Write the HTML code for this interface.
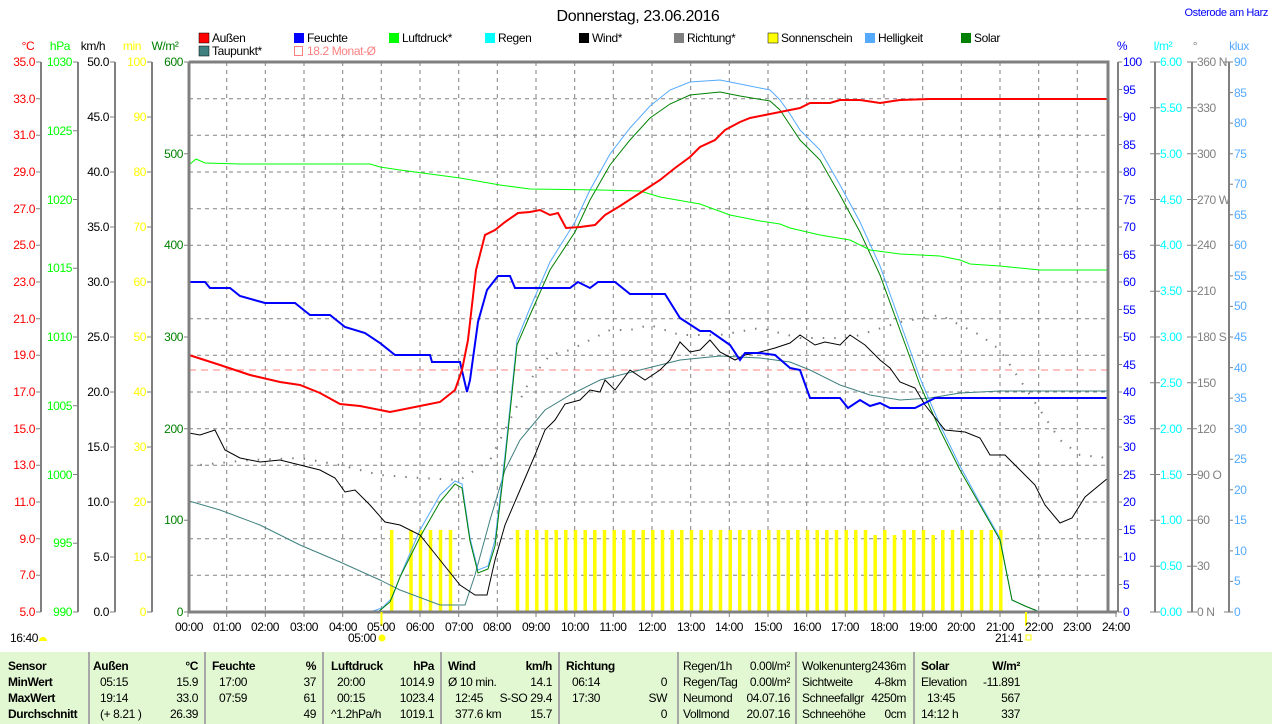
<!DOCTYPE html>
<html><head><meta charset="utf-8"><style>
body{margin:0;background:#fff;width:1274px;height:724px;overflow:hidden;font-family:"Liberation Sans",sans-serif;}
svg text{font-family:"Liberation Sans",sans-serif;font-size:12px;letter-spacing:-0.4px;}
#tbl{position:absolute;left:0;top:652px;width:1272px;height:72px;background:#e2f8d2;font-size:12px;letter-spacing:-0.4px;}
#tbl div{position:absolute;white-space:nowrap;}
.sep{width:2px;height:72px;top:0;background:#a8a8a8;}
.b{font-weight:bold;}
</style></head><body>
<svg width="1274" height="652" style="position:absolute;left:0;top:0">
<text x="638" y="21" text-anchor="middle" style="font-size:16px">Donnerstag, 23.06.2016</text>
<text x="1268" y="16" text-anchor="end" fill="#0000ff" style="font-size:11px">Osterode am Harz</text>
<g style="font-size:12px">
<rect x="199" y="33" width="10" height="10" fill="#ff0000" stroke="#000" stroke-width="0.5"/><text x="212" y="42">Außen</text>
<rect x="294" y="33" width="10" height="10" fill="#0000ff"/><text x="307" y="42">Feuchte</text>
<rect x="389" y="33" width="10" height="10" fill="#00ff00"/><text x="402" y="42">Luftdruck*</text>
<rect x="485" y="33" width="10" height="10" fill="#00ffff"/><text x="498" y="42">Regen</text>
<rect x="579" y="33" width="10" height="10" fill="#000"/><text x="592" y="42">Wind*</text>
<rect x="674" y="33" width="10" height="10" fill="#808080"/><text x="687" y="42">Richtung*</text>
<rect x="768" y="33" width="10" height="10" fill="#ffff00" stroke="#000" stroke-width="0.5"/><text x="781" y="42">Sonnenschein</text>
<rect x="865" y="33" width="10" height="10" fill="#55aaff"/><text x="878" y="42">Helligkeit</text>
<rect x="961" y="33" width="10" height="10" fill="#008000"/><text x="974" y="42">Solar</text>
<rect x="199" y="46" width="10" height="10" fill="#408080" stroke="#000" stroke-width="0.5"/><text x="212" y="55">Taupunkt*</text>
<rect x="294.5" y="46.5" width="8" height="9" fill="none" stroke="#ff8080"/><text x="307" y="55" fill="#ff8080">18.2 Monat-Ø</text>
</g>
<text x="28" y="50" text-anchor="middle" fill="#ff0000">°C</text>
<text x="60" y="50" text-anchor="middle" fill="#00ff00">hPa</text>
<text x="93" y="50" text-anchor="middle">km/h</text>
<text x="132" y="50" text-anchor="middle" fill="#ffff00">min</text>
<text x="165" y="50" text-anchor="middle" fill="#008000">W/m²</text>
<text x="1122" y="50" text-anchor="middle" fill="#0000ff">%</text>
<text x="1163" y="50" text-anchor="middle" fill="#00ffff">l/m²</text>
<text x="1195" y="50" text-anchor="middle" fill="#808080">°</text>
<text x="1239" y="50" text-anchor="middle" fill="#55aaff">klux</text>
<g stroke="#808080" stroke-dasharray="4,4" stroke-width="1">
<line x1="226.7" y1="62" x2="226.7" y2="612"/><line x1="265.3" y1="62" x2="265.3" y2="612"/><line x1="304" y1="62" x2="304" y2="612"/><line x1="342.7" y1="62" x2="342.7" y2="612"/><line x1="381.3" y1="62" x2="381.3" y2="612"/><line x1="420" y1="62" x2="420" y2="612"/><line x1="458.7" y1="62" x2="458.7" y2="612"/><line x1="497.3" y1="62" x2="497.3" y2="612"/><line x1="536" y1="62" x2="536" y2="612"/><line x1="574.7" y1="62" x2="574.7" y2="612"/><line x1="613.3" y1="62" x2="613.3" y2="612"/><line x1="652" y1="62" x2="652" y2="612"/><line x1="690.7" y1="62" x2="690.7" y2="612"/><line x1="729.3" y1="62" x2="729.3" y2="612"/><line x1="768" y1="62" x2="768" y2="612"/><line x1="806.7" y1="62" x2="806.7" y2="612"/><line x1="845.3" y1="62" x2="845.3" y2="612"/><line x1="884" y1="62" x2="884" y2="612"/><line x1="922.7" y1="62" x2="922.7" y2="612"/><line x1="961.3" y1="62" x2="961.3" y2="612"/><line x1="1000" y1="62" x2="1000" y2="612"/><line x1="1038.7" y1="62" x2="1038.7" y2="612"/><line x1="1077.3" y1="62" x2="1077.3" y2="612"/>
<line x1="189" y1="98.7" x2="1108" y2="98.7"/><line x1="189" y1="135.3" x2="1108" y2="135.3"/><line x1="189" y1="172" x2="1108" y2="172"/><line x1="189" y1="208.7" x2="1108" y2="208.7"/><line x1="189" y1="245.3" x2="1108" y2="245.3"/><line x1="189" y1="282" x2="1108" y2="282"/><line x1="189" y1="318.7" x2="1108" y2="318.7"/><line x1="189" y1="355.3" x2="1108" y2="355.3"/><line x1="189" y1="392" x2="1108" y2="392"/><line x1="189" y1="428.7" x2="1108" y2="428.7"/><line x1="189" y1="465.3" x2="1108" y2="465.3"/><line x1="189" y1="502" x2="1108" y2="502"/><line x1="189" y1="538.7" x2="1108" y2="538.7"/><line x1="189" y1="575.3" x2="1108" y2="575.3"/>
</g>
<g stroke="#ffff00" stroke-width="3.5">
<line x1="391.7" y1="530" x2="391.7" y2="612"/><line x1="411" y1="530" x2="411" y2="612"/><line x1="420.5" y1="530" x2="420.5" y2="612"/><line x1="430.5" y1="530" x2="430.5" y2="612"/><line x1="440.5" y1="530" x2="440.5" y2="612"/><line x1="450.5" y1="530" x2="450.5" y2="612"/>
<path d="M517.5 530V612M527.2 530V612M536.8 530V612M546.5 530V612M556.2 530V612M565.8 530V612M575.5 530V612M585.2 530V612M594.8 530V612M604.5 530V612M614.2 530V612M623.8 530V612M633.5 530V612M643.2 530V612M652.8 530V612M662.5 530V612M672.2 530V612M681.8 530V612M691.5 530V612M701.2 530V612M710.8 530V612M720.5 530V612M730.2 530V612M739.8 530V612M749.5 530V612M759.2 530V612M768.8 530V612M778.5 530V612M788.2 530V612M797.8 530V612M807.5 530V612M817.2 530V612M826.8 530V612M836.5 530V612M846.2 530V612M855.8 530V612M865.5 530V612M875.2 535V612M884.8 530V612M894.5 535V612M904.2 530V612M913.8 530V612M923.5 530V612M933.2 535V612M942.8 530V612M952.5 530V612M962.2 530V612M971.8 530V612M981.5 530V612M991.2 530V612M1000.8 530V612"/>
</g>
<line x1="189" y1="370" x2="1108" y2="370" stroke="#ff8080" stroke-dasharray="7,5"/>
<polyline fill="none" stroke="#808080" stroke-width="2" stroke-dasharray="1.5,10" points="189,466 250,460 300,458 340,465 380,475 420,478 460,480 490,460 510,420 530,380 550,355 570,350 590,340 610,330 630,330 650,325 680,335 720,335 760,328 800,338 850,338 900,322 940,315 980,335 1000,350 1020,380 1040,410 1060,440 1080,455 1108,458"/>
<polyline fill="none" stroke="#408080" stroke-width="1" points="189,501 220,510 260,525 300,545 340,562 380,580 400,590 440,605 465,605 475,575 490,520 505,470 520,440 545,410 570,395 600,380 640,370 680,360 720,356 760,358 790,362 810,370 840,385 870,395 900,400 930,398 960,393 1000,391 1108,391"/>
<polyline fill="none" stroke="#55aaff" stroke-width="1" points="189,612 370,612 382,608 392,598 402,572 420,530 440,495 455,481 462,484 470,538 478,570 488,566 495,540 505,455 517,340 530,308 550,262 575,222 590,190 610,154 630,128 650,106 670,90 690,82 720,80 740,84 770,90 780,100 790,114 800,130 820,150 840,185 860,222 880,266 900,322 920,378 940,425 960,466 980,503 1000,538 1012,600 1025,606 1040,612 1108,612"/>
<polyline fill="none" stroke="#008000" stroke-width="1" points="189,612 378,612 390,602 400,577 420,537 440,502 455,484 462,488 470,541 478,573 488,569 495,546 505,461 517,345 530,315 550,270 575,232 590,200 610,165 630,140 650,118 670,104 690,95 720,92 740,96 770,101 780,110 790,125 800,140 820,160 840,195 860,232 880,275 900,330 920,385 940,430 960,470 980,505 1000,540 1012,600 1025,606 1040,612"/>
<polyline fill="none" stroke="#00ff00" stroke-width="1" points="189,165 196,159 205,163 240,164 370,164 380,167 400,170 430,174 460,178 500,185 530,189 600,190 640,191 660,197 700,204 730,215 760,221 780,224 790,228 820,235 850,240 870,250 900,254 940,256 960,260 970,264 1000,266 1040,270 1108,270"/>
<polyline fill="none" stroke="#000" stroke-width="1" points="189,433 200,435 215,430 225,450 240,458 260,462 280,460 300,465 320,470 335,478 345,492 355,490 370,505 385,522 400,525 420,535 440,560 460,585 475,595 487,595 495,560 505,525 520,490 535,455 545,430 555,420 565,404 580,400 590,390 600,392 605,380 615,390 630,370 645,380 660,370 670,360 680,342 690,352 700,350 710,340 720,352 735,360 745,355 760,352 775,348 790,343 800,335 815,345 825,342 840,345 850,335 865,345 880,360 890,368 900,382 915,388 925,405 945,430 965,432 980,438 990,455 1005,455 1020,470 1035,485 1045,505 1060,523 1072,518 1085,497 1108,478"/>
<polyline fill="none" stroke="#0000ff" stroke-width="2" points="189,282 205,282 210,288 230,288 240,296 265,303 295,303 310,315 330,315 345,327 365,333 380,343 395,355 430,355 432,362 460,362 467,392 470,380 478,322 487,290 498,276 510,276 515,288 570,288 578,282 590,288 598,282 615,282 630,294 665,294 680,318 700,331 710,331 720,338 730,345 740,360 745,353 760,353 775,355 790,368 800,370 810,398 840,398 848,408 860,400 870,406 880,403 890,408 915,408 935,398 1108,398"/>
<polyline fill="none" stroke="#ff0000" stroke-width="2" points="189,355 220,365 250,375 280,382 300,385 320,393 340,404 360,406 390,412 410,408 440,402 455,390 462,370 468,340 476,270 485,235 495,230 505,222 518,213 530,212 540,210 550,215 558,213 566,228 580,227 595,225 605,215 620,206 640,193 660,180 675,168 690,157 700,147 715,140 725,130 740,122 750,118 765,115 780,112 800,108 810,103 830,103 840,100 860,100 880,103 900,100 930,99 1108,99"/>
<g stroke="#808080" fill="none">
<path d="M189 62H1108V612" stroke-width="3"/>
<line x1="189" y1="62" x2="189" y2="612" stroke-width="3"/>
<line x1="188" y1="612" x2="1117" y2="612" stroke-width="3"/>
<line x1="41" y1="62" x2="41" y2="612" stroke-width="2"/>
<line x1="78" y1="62" x2="78" y2="612" stroke-width="2"/>
<line x1="115" y1="62" x2="115" y2="612" stroke-width="2"/>
<line x1="152" y1="62" x2="152" y2="612" stroke-width="2"/>
<line x1="1118" y1="62" x2="1118" y2="612" stroke-width="2"/>
<line x1="1155" y1="62" x2="1155" y2="612" stroke-width="2"/>
<line x1="1192" y1="62" x2="1192" y2="612" stroke-width="2"/>
<line x1="1229" y1="62" x2="1229" y2="612" stroke-width="2"/>
<path stroke-width="1" d="M188 612v5M226.7 612v5M265.3 612v5M304 612v5M342.7 612v5M381.3 612v5M420 612v5M458.7 612v5M497.3 612v5M536 612v5M574.7 612v5M613.3 612v5M652 612v5M690.7 612v5M729.3 612v5M768 612v5M806.7 612v5M845.3 612v5M884 612v5M922.7 612v5M961.3 612v5M1000 612v5M1038.7 612v5M1077.3 612v5M1116 612v5"/>
</g>
<line x1="381.5" y1="612" x2="381.5" y2="626" stroke="#ffff00" stroke-width="2"/>
<line x1="1026" y1="612" x2="1026" y2="626" stroke="#ffff00" stroke-width="2"/>
<g text-anchor="end" fill="#ff0000">
<text x="35" y="66">35.0</text><text x="35" y="103">33.0</text><text x="35" y="139">31.0</text><text x="35" y="176">29.0</text><text x="35" y="213">27.0</text><text x="35" y="249">25.0</text><text x="35" y="286">23.0</text><text x="35" y="323">21.0</text><text x="35" y="359">19.0</text><text x="35" y="396">17.0</text><text x="35" y="433">15.0</text><text x="35" y="469">13.0</text><text x="35" y="506">11.0</text><text x="35" y="543">9.0</text><text x="35" y="579">7.0</text><text x="35" y="616">5.0</text>
</g>
<g text-anchor="end" fill="#00ff00">
<text x="72" y="66">1030</text><text x="72" y="135">1025</text><text x="72" y="204">1020</text><text x="72" y="272">1015</text><text x="72" y="341">1010</text><text x="72" y="410">1005</text><text x="72" y="479">1000</text><text x="72" y="547">995</text><text x="72" y="616">990</text>
</g>
<g text-anchor="end" fill="#000">
<text x="109" y="66">50.0</text><text x="109" y="121">45.0</text><text x="109" y="176">40.0</text><text x="109" y="231">35.0</text><text x="109" y="286">30.0</text><text x="109" y="341">25.0</text><text x="109" y="396">20.0</text><text x="109" y="451">15.0</text><text x="109" y="506">10.0</text><text x="109" y="561">5.0</text><text x="109" y="616">0.0</text>
</g>
<g text-anchor="end" fill="#ffff00">
<text x="146" y="66">100</text><text x="146" y="121">90</text><text x="146" y="176">80</text><text x="146" y="231">70</text><text x="146" y="286">60</text><text x="146" y="341">50</text><text x="146" y="396">40</text><text x="146" y="451">30</text><text x="146" y="506">20</text><text x="146" y="561">10</text><text x="146" y="616">0</text>
</g>
<g text-anchor="end" fill="#008000">
<text x="183" y="66">600</text><text x="183" y="158">500</text><text x="183" y="249">400</text><text x="183" y="341">300</text><text x="183" y="433">200</text><text x="183" y="524">100</text><text x="183" y="616">0</text>
</g>
<g stroke="#808080"><path d="M36 62h5M36 98.7h5M36 135.3h5M36 172h5M36 208.7h5M36 245.3h5M36 282h5M36 318.7h5M36 355.3h5M36 392h5M36 428.7h5M36 465.3h5M36 502h5M36 538.7h5M36 575.3h5M36 612h5M73 62h5M73 130.75h5M73 199.5h5M73 268.25h5M73 337h5M73 405.75h5M73 474.5h5M73 543.25h5M73 612h5M110 62h5M110 117h5M110 172h5M110 227h5M110 282h5M110 337h5M110 392h5M110 447h5M110 502h5M110 557h5M110 612h5M147 62h5M147 117h5M147 172h5M147 227h5M147 282h5M147 337h5M147 392h5M147 447h5M147 502h5M147 557h5M147 612h5M184 62h5M184 153.7h5M184 245.3h5M184 337h5M184 428.7h5M184 520.3h5M184 612h5"/></g>
<g fill="#0000ff">
<text x="1123" y="66">100</text><text x="1123" y="94">95</text><text x="1123" y="121">90</text><text x="1123" y="149">85</text><text x="1123" y="176">80</text><text x="1123" y="204">75</text><text x="1123" y="231">70</text><text x="1123" y="259">65</text><text x="1123" y="286">60</text><text x="1123" y="314">55</text><text x="1123" y="341">50</text><text x="1123" y="369">45</text><text x="1123" y="396">40</text><text x="1123" y="424">35</text><text x="1123" y="451">30</text><text x="1123" y="479">25</text><text x="1123" y="506">20</text><text x="1123" y="534">15</text><text x="1123" y="561">10</text><text x="1123" y="589">5</text><text x="1123" y="616">0</text>
</g>
<g fill="#00ffff">
<text x="1160" y="66">6.00</text><text x="1160" y="112">5.50</text><text x="1160" y="158">5.00</text><text x="1160" y="204">4.50</text><text x="1160" y="249">4.00</text><text x="1160" y="295">3.50</text><text x="1160" y="341">3.00</text><text x="1160" y="387">2.50</text><text x="1160" y="433">2.00</text><text x="1160" y="479">1.50</text><text x="1160" y="524">1.00</text><text x="1160" y="570">0.50</text><text x="1160" y="616">0.00</text>
</g>
<g fill="#808080">
<text x="1197" y="66">360 N</text><text x="1197" y="112">330</text><text x="1197" y="158">300</text><text x="1197" y="204">270 W</text><text x="1197" y="249">240</text><text x="1197" y="295">210</text><text x="1197" y="341">180 S</text><text x="1197" y="387">150</text><text x="1197" y="433">120</text><text x="1197" y="479">90 O</text><text x="1197" y="524">60</text><text x="1197" y="570">30</text><text x="1197" y="616">0 N</text>
</g>
<g fill="#55aaff">
<text x="1234" y="66">90</text><text x="1234" y="97">85</text><text x="1234" y="127">80</text><text x="1234" y="158">75</text><text x="1234" y="188">70</text><text x="1234" y="219">65</text><text x="1234" y="249">60</text><text x="1234" y="280">55</text><text x="1234" y="310">50</text><text x="1234" y="341">45</text><text x="1234" y="372">40</text><text x="1234" y="402">35</text><text x="1234" y="433">30</text><text x="1234" y="463">25</text><text x="1234" y="494">20</text><text x="1234" y="524">15</text><text x="1234" y="555">10</text><text x="1234" y="585">5</text><text x="1234" y="616">0</text>
</g>
<g stroke="#808080"><path d="M1118 62h4M1118 89.5h4M1118 117h4M1118 144.5h4M1118 172h4M1118 199.5h4M1118 227h4M1118 254.5h4M1118 282h4M1118 309.5h4M1118 337h4M1118 364.5h4M1118 392h4M1118 419.5h4M1118 447h4M1118 474.5h4M1118 502h4M1118 529.5h4M1118 557h4M1118 584.5h4M1118 612h4M1150 62h10M1150 107.8h10M1150 153.7h10M1150 199.5h10M1150 245.3h10M1150 291.2h10M1150 337h10M1150 382.8h10M1150 428.7h10M1150 474.5h10M1150 520.3h10M1150 566.2h10M1150 612h10M1187 62h10M1187 107.8h10M1187 153.7h10M1187 199.5h10M1187 245.3h10M1187 291.2h10M1187 337h10M1187 382.8h10M1187 428.7h10M1187 474.5h10M1187 520.3h10M1187 566.2h10M1187 612h10M1224 62h9M1229 92.6h4M1229 123.1h4M1229 153.7h4M1229 184.2h4M1229 214.8h4M1229 245.3h4M1229 275.9h4M1229 306.4h4M1229 337h4M1229 367.6h4M1229 398.1h4M1229 428.7h4M1229 459.2h4M1229 489.8h4M1229 520.3h4M1229 550.9h4M1229 581.4h4M1224 612h9"/></g>
<g text-anchor="middle">
<text x="189" y="631">00:00</text><text x="227" y="631">01:00</text><text x="265" y="631">02:00</text><text x="304" y="631">03:00</text><text x="343" y="631">04:00</text><text x="381" y="631">05:00</text><text x="420" y="631">06:00</text><text x="459" y="631">07:00</text><text x="497" y="631">08:00</text><text x="536" y="631">09:00</text><text x="575" y="631">10:00</text><text x="613" y="631">11:00</text><text x="652" y="631">12:00</text><text x="691" y="631">13:00</text><text x="729" y="631">14:00</text><text x="768" y="631">15:00</text><text x="807" y="631">16:00</text><text x="845" y="631">17:00</text><text x="884" y="631">18:00</text><text x="923" y="631">19:00</text><text x="961" y="631">20:00</text><text x="1000" y="631">21:00</text><text x="1039" y="631">22:00</text><text x="1077" y="631">23:00</text><text x="1116" y="631">24:00</text>
</g>
<text x="10" y="642">16:40</text><path d="M39 641a4 4 0 0 1 8 0z" fill="#ffff00"/>
<text x="348" y="642">05:00</text><circle cx="382" cy="638" r="3.5" fill="#ffff00"/>
<text x="995" y="642">21:41</text><rect x="1026" y="635" width="5" height="5" fill="none" stroke="#ffff00"/>
</svg>
<div id="tbl">
<div class="sep" style="left:88px"></div><div class="sep" style="left:204px"></div><div class="sep" style="left:322px"></div><div class="sep" style="left:440px"></div><div class="sep" style="left:558px"></div><div class="sep" style="left:677px"></div><div class="sep" style="left:795px"></div><div class="sep" style="left:913px"></div>
<div class="b" style="left:8px;top:7px">Sensor</div><div class="b" style="left:8px;top:23px">MinWert</div><div class="b" style="left:8px;top:39px">MaxWert</div><div class="b" style="left:8px;top:55px">Durchschnitt</div>
<div class="b" style="left:93px;top:7px">Außen</div><div class="b" style="right:1074px;top:7px">°C</div>
<div style="left:100px;top:23px">05:15</div><div style="right:1074px;top:23px">15.9</div>
<div style="left:100px;top:39px">19:14</div><div style="right:1074px;top:39px">33.0</div>
<div style="left:100px;top:55px">(+ 8.21 )</div><div style="right:1074px;top:55px">26.39</div>
<div class="b" style="left:212px;top:7px">Feuchte</div><div class="b" style="right:956px;top:7px">%</div>
<div style="left:219px;top:23px">17:00</div><div style="right:956px;top:23px">37</div>
<div style="left:219px;top:39px">07:59</div><div style="right:956px;top:39px">61</div>
<div style="right:956px;top:55px">49</div>
<div class="b" style="left:331px;top:7px">Luftdruck</div><div class="b" style="right:838px;top:7px">hPa</div>
<div style="left:337px;top:23px">20:00</div><div style="right:838px;top:23px">1014.9</div>
<div style="left:337px;top:39px">00:15</div><div style="right:838px;top:39px">1023.4</div>
<div style="left:331px;top:55px">^1.2hPa/h</div><div style="right:838px;top:55px">1019.1</div>
<div class="b" style="left:448px;top:7px">Wind</div><div class="b" style="right:720px;top:7px">km/h</div>
<div style="left:448px;top:23px">Ø 10 min.</div><div style="right:720px;top:23px">14.1</div>
<div style="left:455px;top:39px">12:45</div><div style="right:720px;top:39px">S-SO 29.4</div>
<div style="left:455px;top:55px">377.6 km</div><div style="right:720px;top:55px">15.7</div>
<div class="b" style="left:566px;top:7px">Richtung</div>
<div style="left:572px;top:23px">06:14</div><div style="right:605px;top:23px">0</div>
<div style="left:572px;top:39px">17:30</div><div style="right:605px;top:39px">SW</div>
<div style="right:605px;top:55px">0</div>
<div style="left:683px;top:7px">Regen/1h</div><div style="right:482px;top:7px">0.00l/m²</div>
<div style="left:683px;top:23px">Regen/Tag</div><div style="right:482px;top:23px">0.00l/m²</div>
<div style="left:683px;top:39px">Neumond</div><div style="right:482px;top:39px">04.07.16</div>
<div style="left:683px;top:55px">Vollmond</div><div style="right:482px;top:55px">20.07.16</div>
<div style="left:802px;top:7px">Wolkenunterg</div><div style="right:366px;top:7px">2436m</div>
<div style="left:802px;top:23px">Sichtweite</div><div style="right:366px;top:23px">4-8km</div>
<div style="left:802px;top:39px">Schneefallgr</div><div style="right:366px;top:39px">4250m</div>
<div style="left:802px;top:55px">Schneehöhe</div><div style="right:366px;top:55px">0cm</div>
<div class="b" style="left:921px;top:7px">Solar</div><div class="b" style="right:252px;top:7px">W/m²</div>
<div style="left:921px;top:23px">Elevation</div><div style="right:252px;top:23px">-11.891</div>
<div style="left:927px;top:39px">13:45</div><div style="right:252px;top:39px">567</div>
<div style="left:921px;top:55px">14:12 h</div><div style="right:252px;top:55px">337</div>
</div>
</body></html>
